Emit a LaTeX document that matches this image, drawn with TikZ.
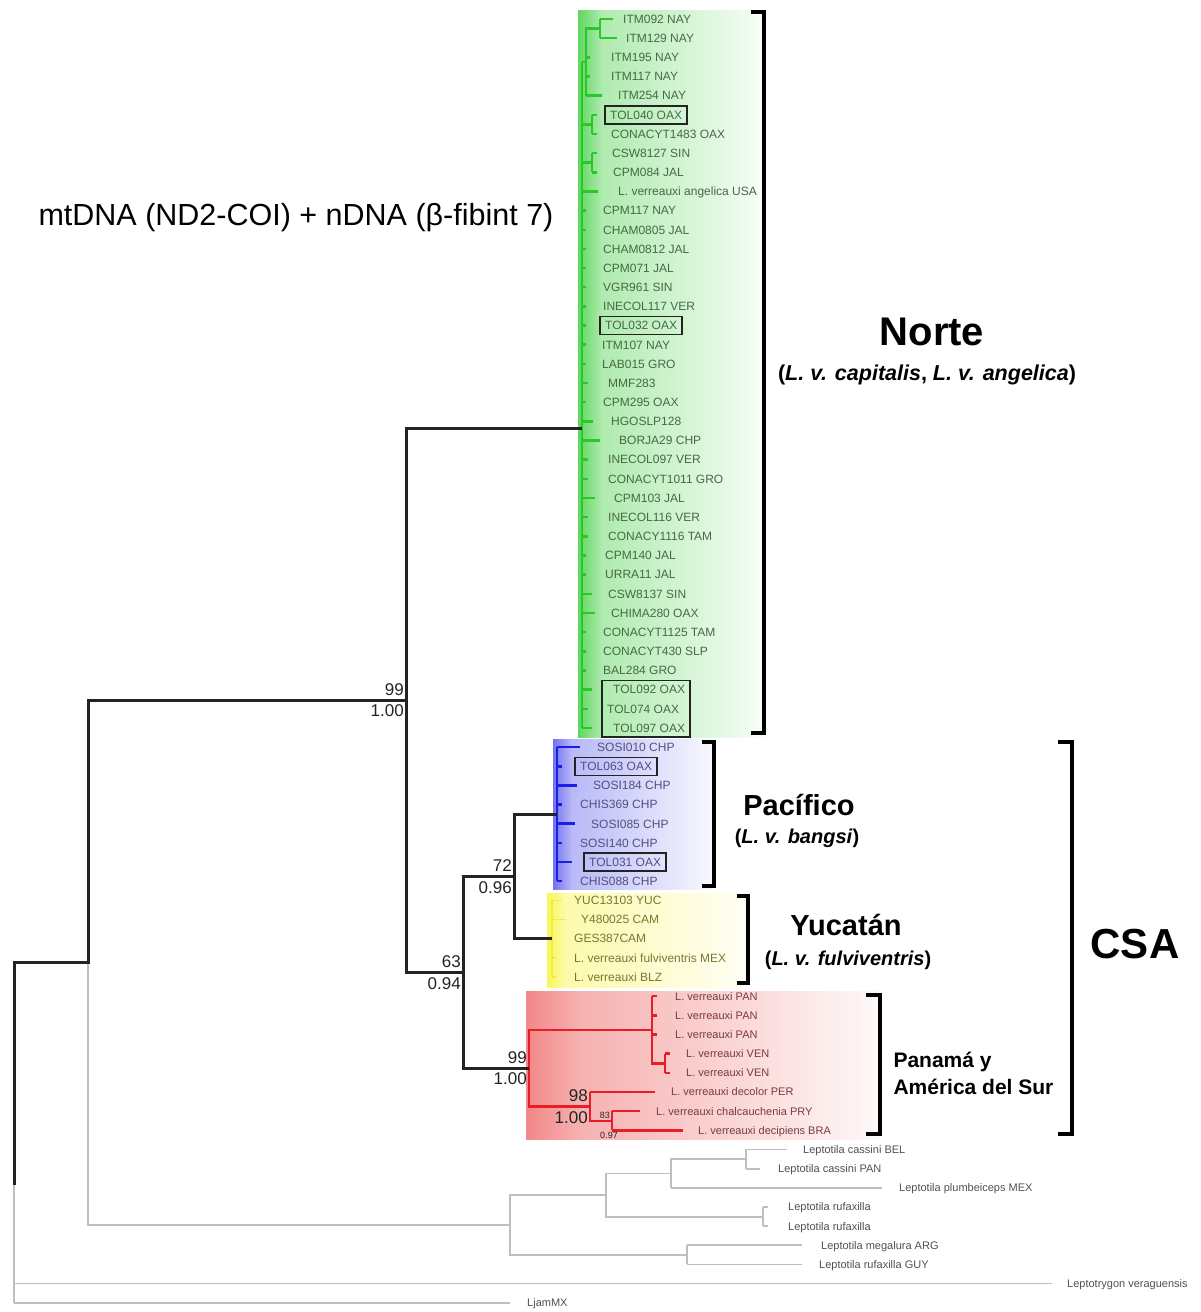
\documentclass[tikz,border=0pt]{standalone}
\usepackage{fontspec}
\setmainfont{Liberation Sans}
\usetikzlibrary{fit}

\definecolor{branchblk}{RGB}{35,35,35}
\definecolor{cladegreen}{RGB}{40,200,40}
\definecolor{bggreen}{RGB}{95,215,95}
\definecolor{txtgreen}{RGB}{70,105,70}
\definecolor{cladeblue}{RGB}{30,30,235}
\definecolor{bgblue}{RGB}{115,115,240}
\definecolor{txtblue}{RGB}{80,80,130}
\definecolor{cladeyellow}{RGB}{235,235,20}
\definecolor{bgyellow}{RGB}{250,245,90}
\definecolor{txtyellow}{RGB}{120,120,50}
\definecolor{cladered}{RGB}{230,30,40}
\definecolor{bgred}{RGB}{242,135,135}
\definecolor{txtred}{RGB}{120,60,60}
\definecolor{outgrey}{RGB}{190,190,190}
\definecolor{txtgrey}{RGB}{80,80,80}

\begin{document}
\begin{tikzpicture}[x=1pt,y=-1pt,
    leaf/.style={anchor=west,inner sep=1pt,font=\fontsize{12}{12}\selectfont,text height=8.6pt,text depth=0pt},
    smallleaf/.style={leaf,font=\fontsize{11}{11}\selectfont,text height=7.9pt},
    blk/.style={draw=branchblk,line width=3pt},
    gbranch/.style={draw=cladegreen,line width=2.5pt},
    bbranch/.style={draw=cladeblue,line width=2.5pt},
    ybranch/.style={draw=cladeyellow,line width=1.5pt,densely dotted},
    rbranch/.style={draw=cladered,line width=2.5pt},
    obranch/.style={draw=outgrey,line width=1.8pt},
    tolbox/.style={draw=branchblk,line width=1.5pt,inner xsep=4pt,inner ysep=3.5pt},
    bracket/.style={draw=black,line width=4.5pt},
    sup/.style={font=\fontsize{17}{17}\selectfont,inner xsep=2pt,inner ysep=4.5pt,text height=12pt,text depth=0pt,text=branchblk},
    supsmall/.style={font=\fontsize{9}{9}\selectfont,inner sep=2pt,text height=6.5pt,text depth=0pt,text=branchblk},
    cladename/.style={font=\bfseries\fontsize{29}{29}\selectfont},
    cladesub/.style={font=\bfseries\fontsize{20}{20}\selectfont}]
  \useasboundingbox (0,0) rectangle (1201,1312);

  % coloured clade backgrounds
  \fill[left color=bggreen,right color=bggreen!50!white] (578,10) rectangle (602,737);
  \fill[left color=bggreen!50!white,right color=bggreen!4!white] (601.5,10) rectangle (765,737);
  \fill[left color=bgblue,right color=bgblue!50!white] (553,739) rectangle (572,889);
  \fill[left color=bgblue!50!white,right color=bgblue!5!white] (571.5,739) rectangle (712,889);
  \fill[left color=bgyellow,right color=bgyellow!50!white] (547,893) rectangle (566,987);
  \fill[left color=bgyellow!50!white,right color=bgyellow!6!white] (565.5,893) rectangle (748,987);
  \fill[left color=bgred,right color=bgred!65!white] (526,991) rectangle (580,1139);
  \fill[left color=bgred!65!white,right color=bgred!5!white] (579.5,991) rectangle (880,1139);

  % Norte clade
  \foreach \rw/\sx/\tx/\lx/\lab in {0/600/613/622/ITM092 NAY,1/600/617/625/ITM129 NAY,
      2/586/590/610/ITM195 NAY,3/586/590/610/ITM117 NAY,4/586/602/617/ITM254 NAY,
      5/592/597/609/TOL040 OAX,6/592/597/610/CONACYT1483 OAX,7/592/597/611/CSW8127 SIN,
      8/592/597/612/CPM084 JAL,9/582/598/617/L. verreauxi angelica USA,10/582/586/602/CPM117 NAY,
      11/582/586/602/CHAM0805 JAL,12/582/586/602/CHAM0812 JAL,13/582/586/602/CPM071 JAL,
      14/582/586/602/VGR961 SIN,15/582/586/602/INECOL117 VER,16/582/586/604/TOL032 OAX,
      17/582/586/601/ITM107 NAY,18/582/586/601/LAB015 GRO,19/582/588/607/MMF283,
      20/582/586/602/CPM295 OAX,21/582/593/610/HGOSLP128,22/582/600/618/BORJA29 CHP,
      23/582/588/607/INECOL097 VER,24/582/588/607/CONACYT1011 GRO,25/582/595/613/CPM103 JAL,
      26/582/588/607/INECOL116 VER,27/582/588/607/CONACY1116 TAM,28/582/586/604/CPM140 JAL,
      29/582/586/604/URRA11 JAL,30/582/592/607/CSW8137 SIN,31/582/595/610/CHIMA280 OAX,
      32/582/586/602/CONACYT1125 TAM,33/582/586/602/CONACYT430 SLP,34/582/586/602/BAL284 GRO,
      35/582/592/612/TOL092 OAX,36/582/588/606/TOL074 OAX,37/582/592/612/TOL097 OAX}{
    \pgfmathsetmacro{\yy}{19+19.16*\rw}
    \coordinate (gs\rw) at (\sx,\yy);
    \coordinate (ge\rw) at (\tx,\yy);
    \node[leaf,text=txtgreen] (g\rw) at (\lx,\yy) {\lab};
    \draw[gbranch] (gs\rw) -- (ge\rw);
  }
  \coordinate (nGtop) at (582,62.1);
  \coordinate (nI) at (586,62.1);
  \coordinate (nI2) at (600,28.6);
  \coordinate (nT) at (592,124.4);
  \coordinate (nC) at (592,162.6);
  \coordinate (nG) at (582,428);
  \draw[gbranch] (nGtop) -- (gs37);
  \draw[gbranch] (gs0) -- (gs1);
  \draw[gbranch] (nI2) -| (nI) -- (gs4);
  \draw[gbranch] (nGtop) -- (nI);
  \draw[gbranch] (gs5) -- (gs6);
  \draw[gbranch] (nT) -- (nT -| nGtop);
  \draw[gbranch] (gs7) -- (gs8);
  \draw[gbranch] (nC) -- (nC -| nGtop);

  % Pacifico clade
  \foreach \rw/\sx/\tx/\lx/\lab in {38/557/580/596/SOSI010 CHP,39/557/562/579/TOL063 OAX,
      40/557/577/592/SOSI184 CHP,41/557/562/579/CHIS369 CHP,42/557/575/590/SOSI085 CHP,
      43/557/562/579/SOSI140 CHP,44/557/572/588/TOL031 OAX,45/557/562/579/CHIS088 CHP}{
    \pgfmathsetmacro{\yy}{19+19.16*\rw}
    \coordinate (bs\rw) at (\sx,\yy);
    \coordinate (be\rw) at (\tx,\yy);
    \node[leaf,text=txtblue] (b\rw) at (\lx,\yy) {\lab};
    \draw[bbranch] (bs\rw) -- (be\rw);
  }
  \coordinate (nB) at (557,814);
  \draw[bbranch] (bs38) -- (bs45);

  % Yucatan clade
  \foreach \rw/\sx/\tx/\lx/\lab in {46/552/560/573/YUC13103 YUC,47/552/565/580/Y480025 CAM,
      48/552/557/573/GES387CAM,49/552/557/573/L. verreauxi fulviventris MEX,
      50/552/557/573/L. verreauxi BLZ}{
    \pgfmathsetmacro{\yy}{19+19.16*\rw}
    \coordinate (ys\rw) at (\sx,\yy);
    \coordinate (ye\rw) at (\tx,\yy);
    \node[leaf,text=txtyellow] (y\rw) at (\lx,\yy) {\lab};
    \draw[ybranch] (ys\rw) -- (ye\rw);
  }
  \coordinate (nY) at (552,938.7);
  \draw[ybranch] (ys46) -- (ys50);

  % Panama y America del Sur
  \foreach \rw/\sx/\tx/\lx/\lab in {51/652/657/674/L. verreauxi PAN,52/652/657/674/L. verreauxi PAN,
      53/652/657/674/L. verreauxi PAN,54/665/670/685/L. verreauxi VEN,55/665/670/685/L. verreauxi VEN,
      56/590/655/670/L. verreauxi decolor PER,57/612/640/655/L. verreauxi chalcauchenia PRY,
      58/612/683/697/L. verreauxi decipiens BRA}{
    \pgfmathsetmacro{\yy}{19+19.16*\rw}
    \coordinate (rs\rw) at (\sx,\yy);
    \coordinate (re\rw) at (\tx,\yy);
    \node[smallleaf,text=txtred] (r\rw) at (\lx,\yy) {\lab};
    \draw[rbranch] (rs\rw) -- (re\rw);
  }
  \coordinate (nV) at (665,1063.3);
  \coordinate (nRa) at (652,1029.8);
  \coordinate (n83) at (612,1121);
  \coordinate (nRb) at (590,1106.5);
  \coordinate (nR) at (529,1068.2);
  \draw[rbranch] (rs54) -- (rs55);
  \draw[rbranch] (rs51) -- (nV -| rs51) -- (nV);
  \draw[rbranch] (rs57) -- (rs58);
  \draw[rbranch] (rs56) |- (n83);
  \draw[rbranch] (nRa) -| (nR) |- (nRb);

  % outgroups
  \foreach \rw/\sx/\tx/\lx/\lab in {59/746/787/802/Leptotila cassini BEL,60/746/760/777/Leptotila cassini PAN,
      61/671/882/898/Leptotila plumbeiceps MEX,62/763/768/787/Leptotila rufaxilla,
      63/763/768/787/Leptotila rufaxilla,64/687/802/820/Leptotila megalura ARG,
      65/687/802/818/Leptotila rufaxilla GUY,66/14/1052/1066/Leptotrygon veraguensis,
      67/14/510/526/LjamMX}{
    \pgfmathsetmacro{\yy}{19+19.16*\rw}
    \coordinate (os\rw) at (\sx,\yy);
    \coordinate (oe\rw) at (\tx,\yy);
    \node[smallleaf,text=txtgrey] (o\rw) at (\lx,\yy) {\lab};
    \draw[obranch] (os\rw) -- (oe\rw);
  }
  \coordinate (nO3) at (746,1159);
  \coordinate (nO2) at (671,1173.5);
  \coordinate (nRf) at (763,1216.6);
  \coordinate (nO1) at (606,1195.1);
  \coordinate (nM) at (687,1254.8);
  \coordinate (nO) at (510,1225);
  \draw[obranch] (os59) -- (os60);
  \draw[obranch] (os62) -- (os63);
  \draw[obranch] (os64) -- (os65);
  \draw[obranch] (nO3) -| (nO2) -- (os61);
  \draw[obranch] (nO2) -| (nO1) |- (nRf);
  \draw[obranch] (nO1) -| (nO) |- (nM);

  % backbone
  \coordinate (n72) at (514,876.4);
  \coordinate (n63) at (463,972.3);
  \coordinate (n99) at (406,700.2);
  \coordinate (nA) at (88,962.7);
  \coordinate (nRoot) at (14,962.7);
  \coordinate (nRootb) at (14,1185);
  \draw[obranch] (nA) |- (nO);
  \draw[obranch] (nRootb) -- (os67);
  \draw[blk] (nB) -| (n72) |- (nY);
  \draw[blk] (n72) -| (n63) |- (nR);
  \draw[blk] (nG) -| (n99) |- (n63);
  \draw[blk] (n99) -| (nA) -- (nRoot) -- (nRootb);

  % boxed samples
  \foreach \n in {g5,g16,b39,b44}
    \node[tolbox,fit=(\n)] {};
  \node[tolbox,fit=(g35)(g36)(g37)] (tolgrp) {};

  % support values
  \node[sup,anchor=south east] (bs99) at (n99) {99};
  \node[sup,anchor=north east] (pp99) at (n99) {1.00};
  \node[sup,anchor=south east] (bs72) at (n72) {72};
  \node[sup,anchor=north east] (pp72) at (n72) {0.96};
  \node[sup,anchor=south east] (bs63) at (n63) {63};
  \node[sup,anchor=north east] (pp63) at (n63) {0.94};
  \node[sup,anchor=south east] (bsR) at (nR) {99};
  \node[sup,anchor=north east] (ppR) at (nR) {1.00};
  \node[sup,anchor=south east] (bs98) at (nRb) {98};
  \node[sup,anchor=north east] (pp98) at (nRb) {1.00};
  \node[supsmall,anchor=south east] (bs83) at (n83) {83};
  \node[supsmall,anchor=north] (pp83) at ([xshift=-3pt]rs58) {0.97};

  % brackets
  \draw[bracket] (751,12) -- (764,12) -- (764,733) -- (751,733);
  \draw[bracket] (702,742) -- (714,742) -- (714,886) -- (702,886);
  \draw[bracket] (737,896) -- (748,896) -- (748,983) -- (737,983);
  \draw[bracket] (866,995) -- (880,995) -- (880,1134) -- (866,1134);
  \draw[bracket] (1058,742) -- (1072,742) -- (1072,1134) -- (1058,1134);

  % titles
  \node[anchor=west,font=\fontsize{30.5}{31}\selectfont] (title) at (35,218) {mtDNA (ND2-COI) + nDNA (β-fibint 7)};
  \node[font=\bfseries\fontsize{40}{40}\selectfont] (norte) at (932,332) {Norte};
  \node[cladesub,font=\bfseries\fontsize{21.5}{21.5}\selectfont] (norteSub) at (927,375) {(\textit{L. v. capitalis}, \textit{L. v. angelica})};
  \node[cladename] (pacif) at (799,805) {Pacífico};
  \node[cladesub] (pacifSub) at (797,838) {(\textit{L. v. bangsi})};
  \node[cladename] (yuca) at (846,925) {Yucatán};
  \node[cladesub] (yucaSub) at (848,960) {(\textit{L. v. fulviventris})};
  \node[anchor=west,align=left,font=\bfseries\fontsize{21}{27}\selectfont] (panam) at (890,1073) {Panamá y\\América del Sur};
  \node[font=\bfseries\fontsize{42}{42}\selectfont] (csa) at (1135,944) {CSA};
\end{tikzpicture}
\end{document}
